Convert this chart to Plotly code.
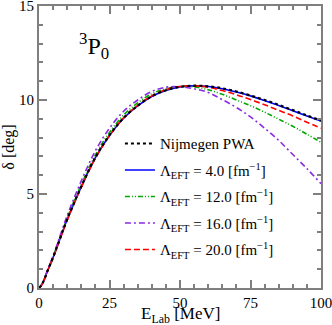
"""3P0 phase shift vs lab energy."""

from plotly import graph_objects as go

e_lab = [0, 1, 2, 3, 5, 7.5, 10, 15, 20, 25, 30, 35, 40, 45, 50, 55, 60, 65, 70, 75, 80, 85, 90, 95, 100]

nijmegen = [0, 0.18, 0.5, 0.9, 1.63, 2.65, 3.65, 5.4, 6.95, 8.13, 9.05, 9.7, 10.2, 10.52, 10.7,
            10.76, 10.73, 10.62, 10.45, 10.24, 10.0, 9.74, 9.46, 9.18, 8.9]
lam_4 = [0, 0.18, 0.5, 0.9, 1.62, 2.64, 3.64, 5.39, 6.93, 8.11, 9.03, 9.69, 10.19, 10.51, 10.69,
         10.75, 10.72, 10.6, 10.43, 10.22, 9.97, 9.71, 9.43, 9.15, 8.88]
lam_12 = [0, 0.19, 0.52, 0.93, 1.66, 2.7, 3.72, 5.5, 7.08, 8.28, 9.2, 9.85, 10.33, 10.6, 10.72,
          10.7, 10.55, 10.3, 10.0, 9.7, 9.35, 8.98, 8.6, 8.18, 7.75]
lam_16 = [0, 0.19, 0.53, 0.95, 1.7, 2.78, 3.85, 5.7, 7.3, 8.5, 9.4, 10.0, 10.45, 10.68, 10.7,
          10.6, 10.4, 10.02, 9.6, 9.1, 8.5, 7.85, 7.1, 6.35, 5.55]
lam_20 = [0, 0.17, 0.48, 0.88, 1.6, 2.61, 3.6, 5.35, 6.9, 8.1, 9.05, 9.72, 10.22, 10.55, 10.72,
          10.75, 10.68, 10.5, 10.28, 10.02, 9.75, 9.45, 9.15, 8.82, 8.5]

series = [
    ("Nijmegen PWA", nijmegen, "black", "dot"),
    ("Λ<sub>EFT</sub> = 4.0 [fm<sup>−1</sup>]", lam_4, "#0000ff", "solid"),
    ("Λ<sub>EFT</sub> = 12.0 [fm<sup>−1</sup>]", lam_12, "#00a800", "5px,2px,1px,2px,1px,2px"),
    ("Λ<sub>EFT</sub> = 16.0 [fm<sup>−1</sup>]", lam_16, "#8a2be2", "6px,3px,2px,3px"),
    ("Λ<sub>EFT</sub> = 20.0 [fm<sup>−1</sup>]", lam_20, "#ff0000", "6px,3px"),
]

FONT = "Liberation Serif, DejaVu Serif, serif"

fig = go.Figure()
for i, (name, y, color, dash) in enumerate(series):
    fig.add_trace(go.Scatter(
        x=e_lab, y=y, name=name, mode="lines", legendrank=i + 1,
        legendgroup=str(i),
        line={"color": color, "dash": dash, "width": 1.6 if dash != "dot" else 2.2,
              "shape": "spline"},
    ))
# draw Nijmegen last so its dots sit on top, legend order kept by legendrank
fig.data = fig.data[1:] + fig.data[:1]

axis = dict(
    showline=True, linecolor="#7f7f7f", linewidth=2, mirror="ticks",
    ticks="inside", tickcolor="#7f7f7f", ticklen=8, tickwidth=1.5,
    showgrid=False, zeroline=False, automargin=False, ticklabeloverflow="allow",
    tickfont={"family": FONT, "size": 15, "color": "black"},
)
fig.update_xaxes(
    **axis, range=[0, 100], dtick=25, tick0=0,
    minor={"dtick": 5, "ticks": "inside", "ticklen": 4, "tickcolor": "#7f7f7f"},
)
fig.update_yaxes(
    **axis, range=[0, 15], dtick=5, tick0=0,
    minor={"dtick": 1, "ticks": "inside", "ticklen": 4, "tickcolor": "#7f7f7f"},
    title={"text": "δ [deg]", "font": {"family": FONT, "size": 16}, "standoff": 4},
)

# x title as an annotation so it can sit below the tick labels
fig.add_annotation(
    text="E<sub>Lab</sub> [MeV]", x=0.5, y=-0.132, xref="paper", yref="paper",
    yanchor="bottom", yshift=-3, showarrow=False,
    font={"family": FONT, "size": 17, "color": "black"},
)
fig.add_annotation(
    text="<sup>3</sup>P<sub>0</sub>", x=0.135, y=0.925, xref="paper", yref="paper",
    showarrow=False, font={"family": FONT, "size": 24, "color": "black"},
)

fig.update_layout(
    width=332, height=325,
    margin={"l": 39, "r": 11, "t": 6, "b": 37},
    plot_bgcolor="white", paper_bgcolor="white",
    font={"family": FONT, "color": "black"},
    legend={
        "x": 0.287, "y": 0.57, "xanchor": "left", "yanchor": "top",
        "bgcolor": "rgba(0,0,0,0)", "font": {"family": FONT, "size": 15},
        "tracegroupgap": 4, "itemwidth": 30,
    },
)

fig.write_html("out.html", config={"displayModeBar": False},
               post_script="document.body.style.margin = '0';")
